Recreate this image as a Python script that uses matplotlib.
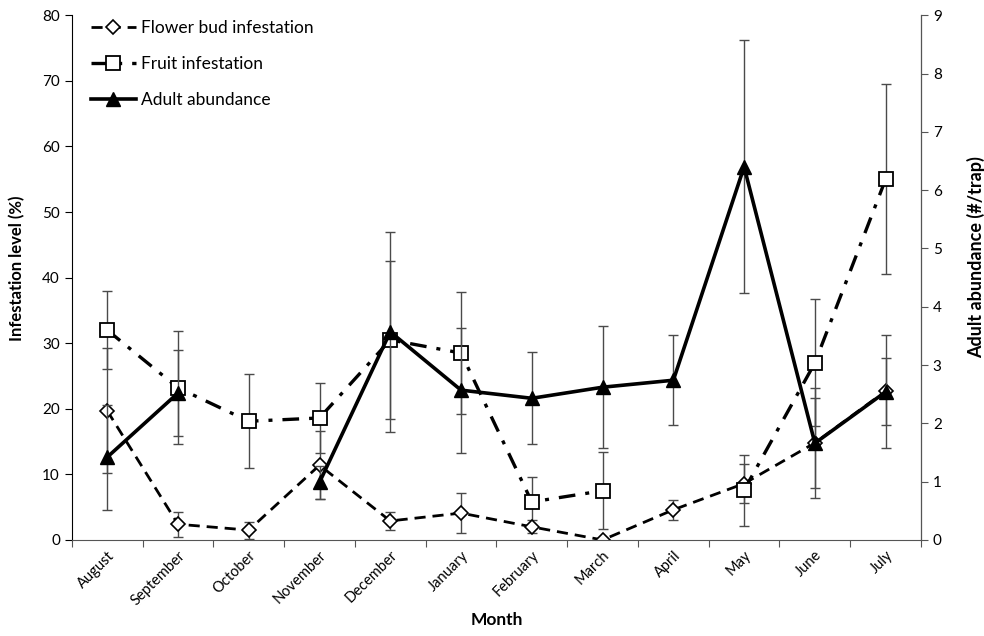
import numpy as np
import matplotlib
matplotlib.use("Agg")
import matplotlib.pyplot as plt
from matplotlib.ticker import FixedLocator, NullFormatter

plt.rcParams["font.family"] = ["Lato", "DejaVu Sans"]

months = ["August", "September", "October", "November", "December", "January",
          "February", "March", "April", "May", "June", "July"]

# infestation levels (%), left axis
bud      = [19.7, 2.4, 1.5, 11.4, 2.9, 4.1, 2.0, 0.0, 4.6, 8.6, 14.8, 22.7]
bud_err  = [9.5, 1.9, 1.3, 5.2, 1.4, 3.1, 1.0, 0.0, 1.5, 3.0, 6.9, 5.1]
fruit     = [32.0, 23.2, 18.1, 18.6, 30.5, 28.5, 5.8, 7.5, np.nan, 7.6, 27.0, 55.0]
fruit_err = [6.0, 8.6, 7.2, 5.3, 12.0, 9.3, 3.8, 5.9, np.nan, 5.4, 9.7, 14.5]

# adult abundance (#/trap), right axis
adult     = [1.42, 2.52, np.nan, 0.99, 3.57, 2.57, 2.43, 2.62, 2.74, 6.40, 1.66, 2.54]
adult_err = [0.90, 0.73, np.nan, 0.28, 1.71, 1.07, 0.79, 1.05, 0.77, 2.17, 0.94, 0.97]

x = np.arange(len(months))

fig = plt.figure(figsize=(9.84, 6.36), dpi=100)
ax = fig.add_axes([0.073, 0.151, 0.863, 0.825])
ax2 = ax.twinx()

ebkw = dict(ecolor="#4a4a4a", elinewidth=1.0, capsize=3.5, capthick=1.0)

ax.errorbar(x, bud, yerr=bud_err, fmt="none", **ebkw)
ax.errorbar(x, fruit, yerr=fruit_err, fmt="none", **ebkw)
ax2.errorbar(x, adult, yerr=adult_err, fmt="none", **ebkw)

l1, = ax.plot(x, bud, linestyle=(0, (4, 2.5)), color="black", lw=2.0,
              marker="D", markersize=7.5, markerfacecolor="white",
              markeredgecolor="black", markeredgewidth=1.2,
              label="Flower bud infestation")
l2, = ax.plot(x, fruit, linestyle=(0, (5, 3, 1.2, 3)), color="black", lw=2.4,
              marker="s", markersize=10, markerfacecolor="white",
              markeredgecolor="black", markeredgewidth=1.3,
              label="Fruit infestation")
l3, = ax2.plot(x, adult, linestyle="-", color="black", lw=2.6,
               marker="^", markersize=10, markerfacecolor="black",
               markeredgecolor="black", label="Adult abundance")

ax.set_xlim(-0.5, len(months) - 0.5)
ax.set_ylim(0, 80)
ax2.set_ylim(0, 9)
ax.set_yticks(np.arange(0, 81, 10))
ax2.set_yticks(np.arange(0, 10, 1))

# category ticks between months, labels centred on months
ax.xaxis.set_major_locator(FixedLocator(np.arange(-0.5, len(months), 1.0)))
ax.xaxis.set_major_formatter(NullFormatter())
ax.xaxis.set_minor_locator(FixedLocator(x))
ax.set_xticklabels(months, minor=True, rotation=45, ha="right",
                   rotation_mode="anchor", fontsize=10.5)
ax.tick_params(axis="x", which="minor", length=0, pad=6)
ax.tick_params(axis="x", which="major", length=5, direction="out", color="#555555")

ax.tick_params(axis="y", length=5, direction="out", labelsize=11)
ax2.tick_params(axis="y", length=5, direction="out", labelsize=11, color="#555555")

for a in (ax, ax2):
    a.spines["top"].set_visible(False)
ax.spines["bottom"].set_color("#555555")
ax2.spines["right"].set_color("#555555")
ax2.spines["bottom"].set_visible(False)
ax2.spines["left"].set_visible(False)

ax.set_ylabel("Infestation level (%)", fontsize=12, fontweight="bold")
ax.yaxis.set_label_coords(-0.055, 0.518)
ax2.set_ylabel("Adult abundance (#/trap)", fontsize=13, fontweight="bold")
ax2.yaxis.set_label_coords(1.054, 0.54)
ax.set_xlabel("Month", fontsize=12.5, fontweight="bold", labelpad=3)

ax.legend(handles=[l1, l2, l3], loc="upper left", bbox_to_anchor=(0.004, 1.021),
          frameon=False, fontsize=12.5, handlelength=2.6, labelspacing=1.15,
          handletextpad=0.3)

fig.savefig("out.png", dpi=100)
